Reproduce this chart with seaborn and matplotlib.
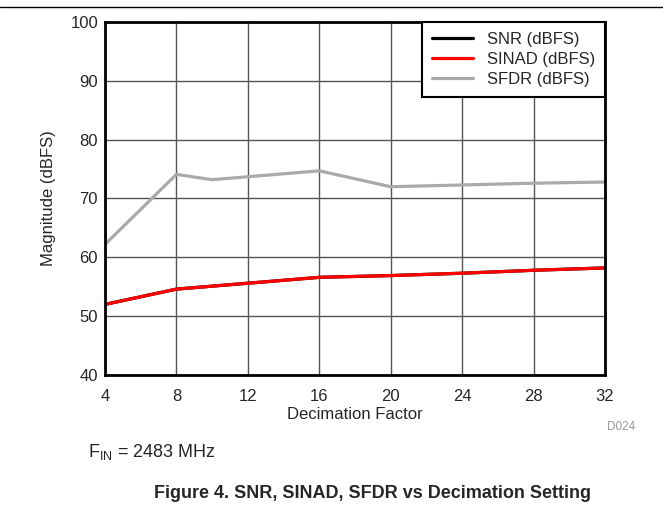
import seaborn as sb
import matplotlib.pyplot as plt
import pandas as pd

decimation = [4, 8, 10, 16, 20, 24, 28, 32]
snr = [52.0, 54.6, 55.1, 56.6, 56.9, 57.3, 57.8, 58.2]
sinad = [52.0, 54.6, 55.1, 56.6, 56.9, 57.3, 57.8, 58.2]
sfdr = [62.2, 74.1, 73.2, 74.7, 72.0, 72.3, 72.6, 72.8]

x_ticks = [4, 8, 12, 16, 20, 24, 28, 32]
y_ticks = [40, 50, 60, 70, 80, 90, 100]

sb.set_style("white")
plt.rcParams['font.family'] = ['Liberation Sans', 'DejaVu Sans']

data = pd.DataFrame({
    "Decimation": decimation * 3,
    "Value": snr + sinad + sfdr,
    "Series": ["SNR (dBFS)"] * len(decimation) + ["SINAD (dBFS)"] * len(decimation)
              + ["SFDR (dBFS)"] * len(decimation),
})

fig = plt.figure(figsize=(6.63, 5.05), dpi=100)
ax = fig.add_axes([105 / 663, 1 - 375 / 505, 500 / 663, 353 / 505])

palette = {"SNR (dBFS)": "black", "SINAD (dBFS)": "#ff0000", "SFDR (dBFS)": "#aaaaaa"}
sb.lineplot(data=data, x="Decimation", y="Value", hue="Series", palette=palette,
            linewidth=2.3, ax=ax, sort=False)

ax.set_xlim(4, 32)
ax.set_ylim(40, 100)
ax.set_xticks(x_ticks)
ax.set_yticks(y_ticks)
ax.grid(True, color="#555555", linewidth=1)
ax.set_axisbelow(True)
for s in ax.spines.values():
    s.set_linewidth(2)
    s.set_color("black")
ax.tick_params(axis="x", labelsize=12, length=0, pad=10)
ax.tick_params(axis="y", labelsize=12, length=0, pad=5)
ax.set_xlabel("Decimation Factor", fontsize=12, labelpad=2)
ax.set_ylabel("Magnitude (dBFS)", fontsize=12, labelpad=10)

leg = ax.legend(loc="upper right", fontsize=12, frameon=True, fancybox=False,
                borderpad=0.6, handlelength=2.5, labelspacing=0.3,
                borderaxespad=0, edgecolor="black", framealpha=1)
leg.get_frame().set_linewidth(1.5)
leg.set_title(None)

fig.add_artist(plt.Line2D([0, 1], [1 - 7 / 505, 1 - 7 / 505], color="black", linewidth=1))
fig.text(621 / 663, 1 - 427 / 505, "D024", fontsize=8.5, color="#999999", ha="center", va="center")
fig.text(88 / 663, 1 - 452 / 505, "F$_{\\mathregular{IN}}$ = 2483 MHz", fontsize=13, ha="left", va="center")
fig.text(372 / 663, 1 - 493 / 505, "Figure 4. SNR, SINAD, SFDR vs Decimation Setting",
         fontsize=13, fontweight="bold", ha="center", va="center")

plt.savefig("out.png", dpi=100)
